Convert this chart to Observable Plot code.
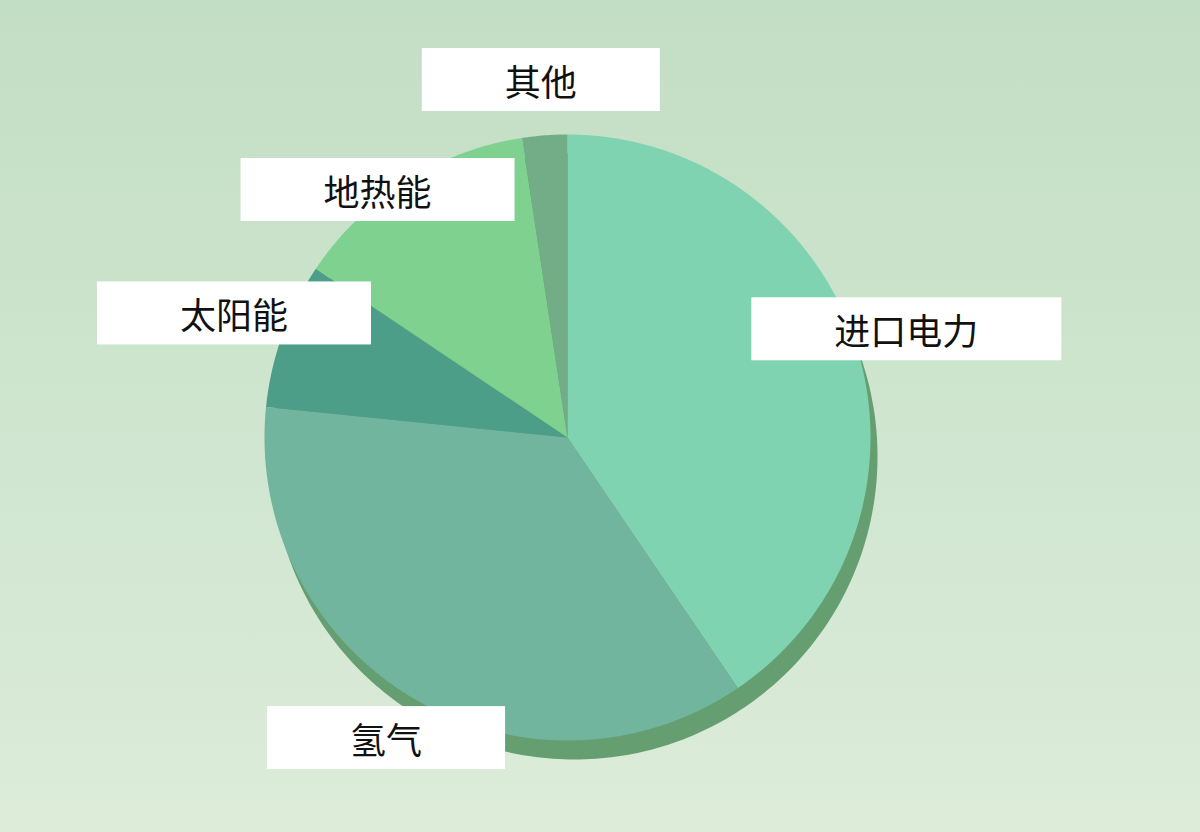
<!DOCTYPE html>
<html><head><meta charset="utf-8">
<script src="https://cdn.jsdelivr.net/npm/d3@7"></script>
<script src="https://cdn.jsdelivr.net/npm/@observablehq/plot@0.6"></script>
<style>
html,body{margin:0;padding:0;}
body{width:1200px;height:832px;background:linear-gradient(to bottom,#c2dec4,#dcecd9);overflow:hidden;}
#chart svg{display:block;background:transparent;}
</style></head><body><div id="chart"></div>
<script>
// Data
const categories = ["进口电力", "氢气", "太阳能", "地热能", "其他"];
const values = [40.5, 36.1, 7.8, 13.2, 2.4];
const colors = ["#7fd3b0", "#72b59e", "#4c9e88", "#7ed18e", "#72ad88"];

// Layout
const W = 1200, H = 832, cx = 567, cy = 437, R = 303;
const fontSize = 36, pad = 83, boxH = 63, minGap = 110; // pixels
const labelRadius = 1.17;
const total = d3.sum(values);
const slices = [];
let acc = 0;
categories.forEach((c, i) => {
  const a0 = acc / total * 2 * Math.PI;
  acc += values[i];
  const a1 = acc / total * 2 * Math.PI;
  slices.push({c, a0, a1, mid: (a0 + a1) / 2});
});
const pts = [];
for (const s of slices) {
  pts.push({c: s.c, x: 0, y: 0});
  const n = Math.max(2, Math.ceil((s.a1 - s.a0) / 0.01));
  for (let k = 0; k <= n; k++) {
    const a = s.a0 + (s.a1 - s.a0) * k / n;
    pts.push({c: s.c, x: Math.sin(a), y: Math.cos(a)});
  }
  pts.push({c: s.c, x: 0, y: 0});
}
const circle = d3.range(0, 361).map(d => ({x: Math.sin(d * Math.PI / 180), y: Math.cos(d * Math.PI / 180)}));

// Label anchors at the slice mid-angle, then pushed apart vertically when boxes collide
const labels = slices.map(s => ({
  c: s.c,
  x: labelRadius * Math.sin(s.mid),
  y: labelRadius * Math.cos(s.mid),
  hw: (s.c.length * fontSize / 2 + pad) / R
}));
const placed = [];
for (const l of labels.slice().sort((a, b) => b.y - a.y)) {
  for (const p of placed) {
    const overlapX = Math.abs(l.x - p.x) < l.hw + p.hw;
    if (overlapX && p.y - l.y < minGap / R) l.y = p.y - minGap / R;
  }
  placed.push(l);
}

const fontFamily = "'Noto Sans CJK SC', 'Noto Sans', sans-serif";
const svg = Plot.plot({
  width: W, height: H,
  margin: 0,
  x: {domain: [-cx / R, (W - cx) / R], axis: null},
  y: {domain: [-(H - cy) / R, cy / R], axis: null},
  color: {domain: categories, range: colors},
  style: {background: "transparent", fontFamily},
  marks: [
    Plot.line(circle, {x: "x", y: "y", fill: "#659e70", stroke: "none", dx: 7, dy: 19}),
    Plot.line(pts, {x: "x", y: "y", z: "c", fill: "c", stroke: "none"}),
    Plot.text(labels, {x: "x", y: "y", text: "c", fontSize, fontWeight: 400, fill: "#111", fontFamily})
  ]
});
document.getElementById("chart").appendChild(svg);

// White boxes behind the labels, sized from the rendered text
const g = svg.querySelector('g[aria-label="text"]');
if (g) {
  const texts = Array.from(g.querySelectorAll("text"));
  const boxes = texts.map(t => t.getBBox());
  texts.forEach((t, i) => {
    const b = boxes[i];
    const tr = t.getAttribute("transform");
    const rect = document.createElementNS("http://www.w3.org/2000/svg", "rect");
    rect.setAttribute("x", b.x - pad);
    rect.setAttribute("y", b.y + b.height / 2 - boxH / 2);
    rect.setAttribute("width", b.width + 2 * pad);
    rect.setAttribute("height", boxH);
    rect.setAttribute("fill", "#ffffff");
    if (tr) rect.setAttribute("transform", tr);
    g.insertBefore(rect, g.firstChild);
  });
}
</script></body></html>
